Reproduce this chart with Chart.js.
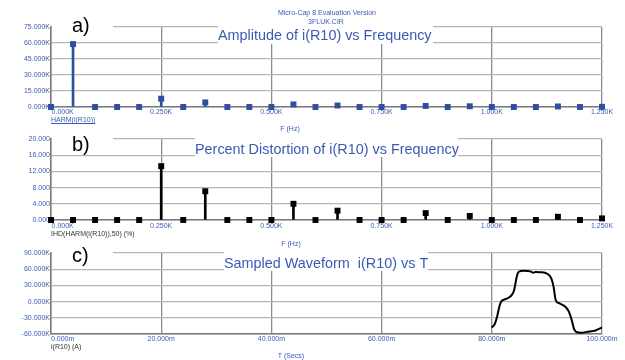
<!DOCTYPE html>
<html>
<head>
<meta charset="utf-8">
<script src="https://cdn.jsdelivr.net/npm/chart.js@4.4.0/dist/chart.umd.min.js"></script>
<style>
  body { margin: 0; background: #fff; }
  #wrap { position: relative; width: 625px; height: 360px; background: #fff; overflow: hidden; }
  canvas { position: absolute; left: 0; }
  .t { position: absolute; font: 7px "Liberation Sans", Arial, sans-serif; line-height: 8px; white-space: nowrap; color: #3b5ab4; }
  .c { transform: translateX(-50%); }
  .dark { color: #333; }
</style>
</head>
<body>
<div id="wrap">
  <canvas id="chartA" width="625" height="130" style="top:0px"></canvas>
  <canvas id="chartB" width="625" height="115" style="top:130px"></canvas>
  <canvas id="chartC" width="625" height="115" style="top:245px"></canvas>

  <div class="t c" style="left:327px; top:9px">Micro-Cap 8 Evaluation Version</div>
  <div class="t c" style="left:326px; top:18px">3FLUK.CIR</div>
  <div class="t" style="left:51px; top:116px; text-decoration: underline">HARM(i(R10))</div>
  <div class="t c" style="left:290px; top:125px">F (Hz)</div>
  <div class="t dark" style="left:51px; top:230px">IHD(HARM(i(R10)),50) (%)</div>
  <div class="t c" style="left:291px; top:240px">F (Hz)</div>
  <div class="t dark" style="left:51px; top:343px">i(R10) (A)</div>
  <div class="t c" style="left:291px; top:352px">T (Secs)</div>
</div>

<script>
// 1: data
// harmonic frequencies (Hz)
const freqs = [0, 50, 100, 150, 200, 250, 300, 350, 400, 450, 500, 550, 600,
  650, 700, 750, 800, 850, 900, 950, 1000, 1050, 1100, 1150, 1200, 1250];
// amplitude of each harmonic (K)
const harmAmp = [0, 59, 0, 0, 0, 7.8, 0, 4.3, 0, 0, 0, 2.4, 0,
  1.4, 0, 0, 0, 1.0, 0, 0.7, 0, 0, 0, 0.5, 0, 0.2];
// percent distortion of each harmonic (%)
const harmPct = [0, 0, 0, 0, 0, 13.3, 0, 7.1, 0, 0, 0, 4.0, 0,
  2.3, 0, 0, 0, 1.7, 0, 1.0, 0, 0, 0, 0.8, 0, 0.4];
// sampled waveform: time (ms) and current (K)
const waveT = [80.0, 80.55, 81.0, 81.35, 81.7, 82.1, 83.0, 83.6, 84.05, 84.35, 84.65, 85.0,
  85.8, 87.0, 87.6, 87.9, 88.8, 90.05, 90.8, 91.2, 91.6, 92.2, 93.4, 94.0, 94.5, 94.9,
  95.3, 96.2, 97.4, 98.05, 98.95, 100.0];
const waveI = [-48, -41, -26, -10, 0, 3, 7, 12, 21, 37, 51, 56,
  57, 56, 53.5, 55, 54.5, 51.5, 43, 28, 3, -3, -10, -19, -34, -50,
  -56, -57.5, -56, -55, -53, -48];

// tick values
const freqTicks = [0, 250, 500, 750, 1000, 1250];
const ampTicks = [0, 15, 30, 45, 60, 75];
const pctTicks = [0, 4, 8, 12, 16, 20];
const timeTicks = [0, 20, 40, 60, 80, 100];
const waveTicks = [-60, -30, 0, 30, 60, 90];

const FONT = 'Liberation Sans';
const BLUE = '#3b5ab4';

// 2: helpers
function pairs(xs, ys) {
  return xs.map((x, i) => ({ x: x, y: ys[i] }));
}

// draws the white boxes with the a)/b)/c) tag and the panel title
const panelText = {
  id: 'panelText',
  beforeDatasetsDraw(chart, args, o) {
    const ctx = chart.ctx;
    ctx.save();
    ctx.fillStyle = '#fff';
    o.boxes.forEach(b => ctx.fillRect(b[0], b[1], b[2], b[3]));
    ctx.textBaseline = 'alphabetic';
    ctx.fillStyle = '#000';
    ctx.font = '20px "' + FONT + '"';
    ctx.fillText(o.tag, 72, o.tagY);
    ctx.fillStyle = BLUE;
    ctx.font = '14.4px "' + FONT + '"';
    ctx.fillText(o.title, o.titleX, o.titleY);
    ctx.restore();
  }
};

// xH = room left under the plot for the x tick labels
function axes(xTicks, xMin, xMax, xFmt, yTicks, yFmt, xPad, xH) {
  return {
    x: {
      type: 'linear', min: xMin, max: xMax, offset: false,
      afterBuildTicks: s => { s.ticks = xTicks.map(v => ({ value: v })); },
      afterFit: s => { s.height = xH; },
      grid: { color: '#8c8c8c', lineWidth: 1.3, drawTicks: false, offset: false },
      border: { color: '#7a7a7a', width: 1.5 },
      ticks: { autoSkip: false, maxRotation: 0, minRotation: 0, padding: xPad, color: BLUE,
        font: { family: FONT, size: 7 }, callback: xFmt }
    },
    y: {
      min: yTicks[0], max: yTicks[yTicks.length - 1],
      afterBuildTicks: s => { s.ticks = yTicks.map(v => ({ value: v })); },
      afterFit: s => { s.width = 51; },
      grid: { color: '#b6b6b6', lineWidth: 1.3, drawTicks: false },
      border: { color: '#7a7a7a', width: 1.5 },
      ticks: { padding: 1, color: BLUE, font: { family: FONT, size: 7 }, callback: yFmt }
    }
  };
}

const kFmt = v => (v / 1000).toFixed(3) + 'K';
const freqFmt = v => (v === 0 ? '            ' : '') + kFmt(v);
const msFmt = v => (v === 0 ? '            ' : '') + v.toFixed(3) + 'm';

// 3: stem charts
function stemChart(id, values, color, yTicks, yFmt, padTop, xH, xPad, text) {
  return new Chart(document.getElementById(id), {
    type: 'bar',
    data: {
      datasets: [
        {
          type: 'line', data: pairs(freqs, values), showLine: false,
          pointStyle: 'rect', pointRadius: 4.2, pointBackgroundColor: color,
          pointBorderWidth: 0, clip: false, order: 1
        },
        {
          type: 'bar', data: pairs(freqs, values), backgroundColor: color,
          barThickness: 2, order: 2
        }
      ]
    },
    options: {
      responsive: false, animation: false, devicePixelRatio: 1,
      layout: { padding: { left: 0, right: 23, top: padTop, bottom: 0 } },
      plugins: { legend: { display: false }, tooltip: { enabled: false }, panelText: text },
      scales: axes(freqTicks, 0, 1250, freqFmt, yTicks, yFmt, xPad, xH)
    },
    plugins: [panelText]
  });
}

stemChart('chartA', harmAmp, '#2c4f9e', ampTicks, v => v.toFixed(3) + 'K', 27, 23, 1, {
  tag: 'a)', tagY: 31.5,
  title: 'Amplitude of i(R10) vs Frequency', titleX: 218, titleY: 40,
  boxes: [[52, 10, 61, 31], [218, 20, 215, 24]]
});

stemChart('chartB', harmPct, '#000', pctTicks, v => v.toFixed(3), 9, 25, 2, {
  tag: 'b)', tagY: 20.7,
  title: 'Percent Distortion of i(R10) vs Frequency', titleX: 195, titleY: 24,
  boxes: [[52, 0, 61, 24.5], [195, 0, 263, 27]]
});

// 4: waveform chart
new Chart(document.getElementById('chartC'), {
  type: 'line',
  data: {
    datasets: [{
      data: pairs(waveT, waveI), borderColor: '#000', borderWidth: 2,
      pointRadius: 0, tension: 0.35, cubicInterpolationMode: 'monotone'
    }]
  },
  options: {
    responsive: false, animation: false, devicePixelRatio: 1,
    layout: { padding: { left: 0, right: 23, top: 8, bottom: 0 } },
    plugins: {
      legend: { display: false }, tooltip: { enabled: false },
      panelText: {
        tag: 'c)', tagY: 16.7,
        title: 'Sampled Waveform  i(R10) vs T', titleX: 224, titleY: 23,
        boxes: [[52, 0, 61, 23.5], [224, 0, 204, 26]]
      }
    },
    scales: axes(timeTicks, 0, 100, msFmt, waveTicks, v => v.toFixed(3) + 'K', 1, 26)
  },
  plugins: [panelText]
});
</script>
</body>
</html>
